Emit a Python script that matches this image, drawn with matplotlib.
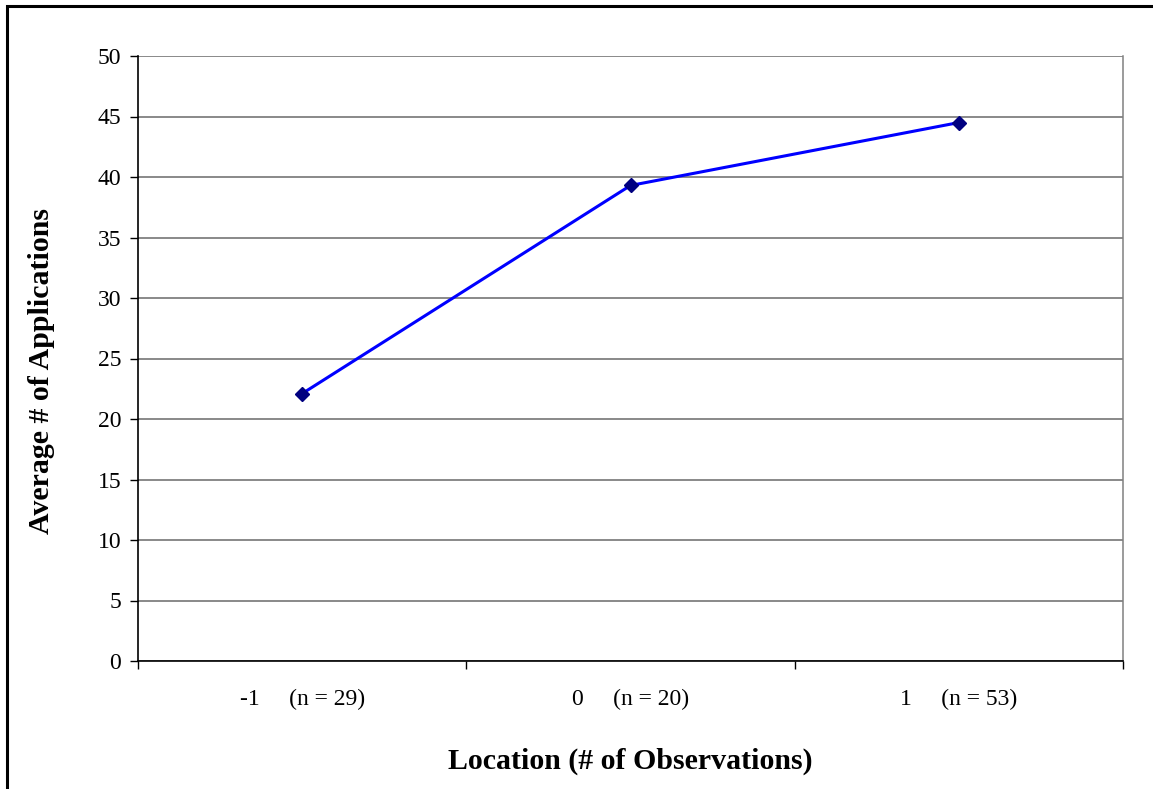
import matplotlib.pyplot as plt
from matplotlib.patches import Rectangle

# data
locations = ["-1", "0", "1"]
n_obs = [29, 20, 53]
avg_apps = [22.1, 39.3, 44.5]

plt.rcParams['font.family'] = ['Liberation Serif', 'DejaVu Serif']

fig = plt.figure(figsize=(11.53, 7.89), dpi=100)
ax = fig.add_axes([138/1153, 1-661/789, (1123-138)/1153, (661-56)/789])

# frame round the whole chart (cut off at right and bottom like the original)
fig.patches.append(Rectangle((7/1153, -0.1), 1.2, 1-6/789+0.1, transform=fig.transFigure,
                             fill=False, edgecolor='black', linewidth=2.2))

xs = list(range(len(locations)))
ax.plot(xs, avg_apps, color='#0000ff', linewidth=2.2, marker='D', markersize=7.5,
        markerfacecolor='#000080', markeredgecolor='#000080', zorder=3)

ax.set_xlim(-0.5, len(locations) - 0.5)
ax.set_ylim(0, 50)
ax.set_yticks(range(0, 51, 5))
ax.yaxis.grid(True, color='#6a6a6a', linewidth=1.1)
ax.set_axisbelow(True)

# category ticks sit between categories, labels centered on categories
ax.set_xticks([i - 0.5 for i in range(len(locations) + 1)])
ax.set_xticklabels([])
ax.set_xticks(xs, minor=True)
ax.set_xticklabels(["%s     (n = %d)" % (l, n) for l, n in zip(locations, n_obs)], minor=True)
ax.tick_params(axis='x', which='minor', length=0, pad=20, labelsize=17)
ax.tick_params(axis='x', which='major', length=6, width=1, direction='out')
ax.tick_params(axis='y', length=6, width=1, direction='out', labelsize=17, pad=6)

for s in ['left', 'bottom']:
    ax.spines[s].set_color('black')
    ax.spines[s].set_linewidth(1.2)
ax.spines['top'].set_visible(False)
ax.spines['right'].set_color('#808080')
ax.spines['right'].set_linewidth(1.1)

ax.set_xlabel("Location (# of Observations)", fontsize=21.5, fontweight='bold', labelpad=27)
ax.set_ylabel("Average # of Applications", fontsize=21.5, fontweight='bold', labelpad=31)
ax.yaxis.label.set_y(0.5 - 12/605)

fig.savefig("out.png", dpi=100)
